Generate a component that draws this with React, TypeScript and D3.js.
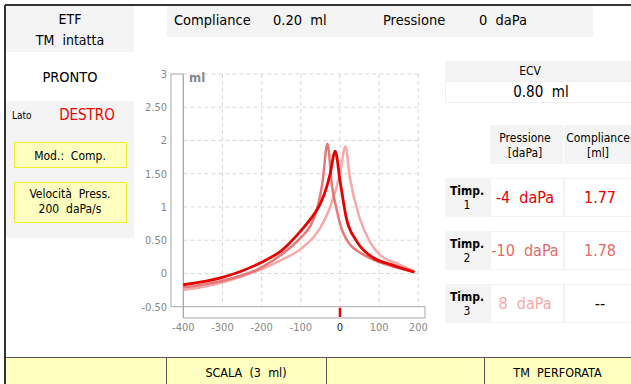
import React from 'react';
import * as d3 from 'd3';

// pressure [daPa] / compliance [ml]
const timp1: [number, number][] = [
  [-400, -0.17], [-300, -0.06], [-200, 0.17], [-150, 0.34], [-100, 0.64], [-75, 0.82],
  [-50, 1.05], [-35, 1.28], [-25, 1.5], [-12, 1.84], [0, 1.4], [16, 0.84], [42, 0.49],
  [84, 0.24], [127, 0.14], [190, 0.02],
];
const timp2: [number, number][] = [
  [-400, -0.21], [-300, -0.11], [-200, 0.09], [-150, 0.28], [-100, 0.54], [-75, 0.72],
  [-60, 0.94], [-45, 1.35], [-32, 1.95], [-20, 1.3], [-8, 0.95], [0, 0.75], [25, 0.44],
  [50, 0.32], [100, 0.17], [150, 0.08], [190, 0.02],
];
const timp3: [number, number][] = [
  [-400, -0.25], [-300, -0.135], [-200, 0.065], [-150, 0.2], [-100, 0.37], [-50, 0.69],
  [-25, 1.0], [0, 1.5], [14, 1.91], [25, 1.45], [50, 0.84], [75, 0.49], [100, 0.29],
  [150, 0.14], [190, 0.03],
];

const pressureTicks = [-400, -300, -200, -100, 0, 100, 200];
const complianceTicks = [-0.5, 0, 0.5, 1, 1.5, 2, 2.5, 3];
const complianceLabels = ['-0.50', '0', '0.50', '1', '1.50', '2', '2.50', '3'];

const timpNames = ['1', '2', '3'];
const timpPressure = ['-4  daPa', '-10  daPa', '8  daPa'];
const timpCompliance = ['1.77', '1.78', '--'];
const timpColors = ['#e80000', '#e46a6a', '#f8a8a8'];
const bottomButtons = ['', 'SCALA  (3  ml)', '', 'TM  PERFORATA'];

const FONT = '"DejaVu Sans Condensed", "DejaVu Sans", sans-serif';
const PANEL = '#f4f4f4';
const YELLOW = '#ffffc0';

// keep the double spaces of the device display
const sp = (s: string) => s.replace(/  /g, ' \u00a0');

export default function App() {
  const x = d3.scaleLinear().domain([-400, 200]).range([183.3, 418.3]);
  const y = d3.scaleLinear().domain([-0.5, 3]).range([306.7, 74]);
  const line = d3.line<[number, number]>()
    .x(d => x(d[0]))
    .y(d => y(d[1]))
    .curve(d3.curveMonotoneX);

  const x0 = x(-400);
  const yBottom = y(-0.5);
  const yTop = y(3);

  return (
    <div style={{ position: 'fixed', left: 0, top: 0, width: 631, height: 384, background: '#fff' }}>
      <svg width={631} height={384} style={{ display: 'block', fontFamily: FONT }}>
        {/* top-left status */}
        <rect x={6} y={6} width={128} height={46} fill={PANEL} />
        <text x={70} y={24} textAnchor="middle" fontSize={14}>ETF</text>
        <text x={70} y={45} textAnchor="middle" fontSize={14}>{sp('TM  intatta')}</text>

        {/* top readout */}
        <rect x={167} y={6} width={426} height={31} fill={PANEL} />
        <text x={174} y={25} fontSize={14.5}>Compliance</text>
        <text x={273} y={25} fontSize={14.5}>{sp('0.20  ml')}</text>
        <text x={383} y={25} fontSize={14.5}>Pressione</text>
        <text x={479} y={25} fontSize={14.5}>{sp('0  daPa')}</text>

        <text x={70} y={82} textAnchor="middle" fontSize={14.5}>PRONTO</text>

        {/* left settings panel */}
        <rect x={6} y={101} width={128} height={137} fill={PANEL} />
        <text x={12} y={119} fontSize={10}>Lato</text>
        <text x={87} y={120} textAnchor="middle" fontSize={15} fill="#f00000">DESTRO</text>
        <rect x={14.5} y={142.5} width={112} height={25} fill={YELLOW} stroke="#eeee30" />
        <text x={70} y={160} textAnchor="middle" fontSize={12}>{sp('Mod.:  Comp.')}</text>
        <rect x={14.5} y={182.5} width={112} height={40} fill={YELLOW} stroke="#eeee30" />
        <text x={70} y={198} textAnchor="middle" fontSize={12}>{sp('Velocità  Press.')}</text>
        <text x={70} y={213} textAnchor="middle" fontSize={12}>{sp('200  daPa/s')}</text>

        {/* grid */}
        {pressureTicks.slice(1).map(t => (
          <line key={'gx' + t} x1={x(t)} x2={x(t)} y1={yTop} y2={yBottom}
            stroke="#d8d8d8" strokeDasharray="4,3" />
        ))}
        {complianceTicks.slice(1).map(t => (
          <line key={'gy' + t} x1={x0} x2={x(200)} y1={y(t)} y2={y(t)}
            stroke="#d8d8d8" strokeDasharray="4,3" />
        ))}

        {/* axis frames */}
        <path d={`M${x0},${yTop} H171 V${yBottom} H425 V318 H${x0} Z`} fill="none" stroke="#a8a8a8" />
        <line x1={x0} x2={x0} y1={yTop} y2={318} stroke="#a8a8a8" />
        <line x1={x(0)} x2={x(0)} y1={yBottom + 1} y2={317} stroke="#f00000" strokeWidth={2.5} />
        <text x={189} y={82} fontSize={13} fontWeight="bold" fill="#888">ml</text>

        {complianceTicks.map((t, i) => (
          <text key={'yl' + t} x={167} y={y(t) + 4} textAnchor="end" fontSize={11} fill="#888">
            {complianceLabels[i]}
          </text>
        ))}
        {pressureTicks.map(t => (
          <text key={'xl' + t} x={x(t)} y={331} textAnchor="middle" fontSize={11}
            fill={t === 0 ? '#222' : '#888'}>{t}</text>
        ))}

        {/* tympanograms */}
        <path d={line(timp3) || ''} fill="none" stroke={timpColors[2]} strokeWidth={2.5} />
        <path d={line(timp2) || ''} fill="none" stroke={timpColors[1]} strokeWidth={2.5} opacity={0.9} />
        <path d={line(timp1) || ''} fill="none" stroke={timpColors[0]} strokeWidth={2.8} />

        {/* ECV */}
        <rect x={445} y={61} width={186} height={20} fill={PANEL} />
        <rect x={445.5} y={81.5} width={186} height={21} fill="#fff" stroke="#f0f0f0" />
        <text x={530} y={75} textAnchor="middle" fontSize={12}>ECV</text>
        <text x={541} y={97} textAnchor="middle" fontSize={15}>{sp('0.80  ml')}</text>

        {/* results table */}
        <rect x={490} y={125} width={73} height={39} fill={PANEL} />
        <rect x={564} y={125} width={67} height={39} fill={PANEL} />
        <text x={525} y={142} textAnchor="middle" fontSize={12}>Pressione</text>
        <text x={525} y={157} textAnchor="middle" fontSize={12}>[daPa]</text>
        <text x={598} y={142} textAnchor="middle" fontSize={12}>Compliance</text>
        <text x={598} y={157} textAnchor="middle" fontSize={12}>[ml]</text>

        {timpNames.map((n, i) => {
          const top = 178 + i * 53;
          return (
            <g key={'row' + n}>
              <rect x={445} y={top} width={45} height={39} fill={PANEL} />
              <rect x={490.5} y={top + 0.5} width={73} height={38} fill="#fff" stroke="#f2f2f2" />
              <rect x={564.5} y={top + 0.5} width={67} height={38} fill="#fff" stroke="#f2f2f2" />
              <text x={467} y={top + 17} textAnchor="middle" fontSize={12} fontWeight={600}>Timp.</text>
              <text x={467} y={top + 31} textAnchor="middle" fontSize={12}>{n}</text>
              <text x={525} y={top + 25} textAnchor="middle" fontSize={16} fill={timpColors[i]}>
                {sp(timpPressure[i])}
              </text>
              <text x={600} y={top + 25} textAnchor="middle" fontSize={16}
                fill={timpCompliance[i] === '--' ? '#000' : timpColors[i]}>
                {timpCompliance[i]}
              </text>
            </g>
          );
        })}

        {/* bottom buttons */}
        <rect x={6} y={357} width={625} height={27} fill={YELLOW} />
        <line x1={5} x2={631} y1={357.5} y2={357.5} stroke="#555" />
        {[166, 326, 484].map(sx => (
          <line key={'sep' + sx} x1={sx + 0.5} x2={sx + 0.5} y1={357} y2={384} stroke="#555" />
        ))}
        {bottomButtons.map((b, i) => {
          const edges = [6, 166, 326, 484, 631];
          return (
            <text key={'btn' + i} x={(edges[i] + edges[i + 1]) / 2} y={377} textAnchor="middle" fontSize={12.5}>
              {sp(b)}
            </text>
          );
        })}

        {/* outer frame */}
        <line x1={5} x2={631} y1={5} y2={5} stroke="#333" strokeWidth={2} />
        <line x1={5} x2={5} y1={5} y2={384} stroke="#333" strokeWidth={2} />
      </svg>
    </div>
  );
}
